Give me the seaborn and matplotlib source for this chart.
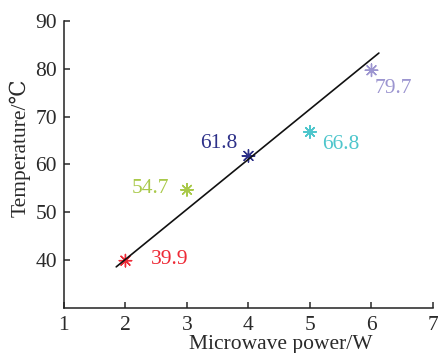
import matplotlib
matplotlib.use("Agg")
import matplotlib.pyplot as plt
import seaborn as sns
import pandas as pd

power = [2, 3, 4, 5, 6]
temperature = [39.9, 54.7, 61.8, 66.8, 79.7]
labels = ["39.9", "54.7", "61.8", "66.8", "79.7"]
colors = ["#ee2a36", "#a9c94a", "#2e3189", "#4ec6cc", "#9c95d0"]
fit_x = [1.85, 6.12]
fit_y = [38.6, 83.3]

sns.set_theme(style="ticks")
plt.rcParams["font.family"] = ["Liberation Serif", "DejaVu Serif"]
plt.rcParams["text.color"] = "#2a2a2a"
plt.rcParams["axes.labelcolor"] = "#2a2a2a"
plt.rcParams["xtick.color"] = "#2a2a2a"
plt.rcParams["ytick.color"] = "#2a2a2a"

FS = 15.5

fig = plt.figure(figsize=(4.38, 3.53), dpi=100)
ax = fig.add_axes([0.146, 0.1275, 0.8426, 0.813])

df = pd.DataFrame({"power": power, "temperature": temperature, "label": labels})
line_df = pd.DataFrame({"x": fit_x, "y": fit_y})

sns.lineplot(data=line_df, x="x", y="y", ax=ax, color="#111111", linewidth=1.2)
sns.scatterplot(data=df, x="power", y="temperature", hue="label",
                palette=colors, marker=(8, 2, 0), s=80, linewidth=1.0,
                legend=False, ax=ax)

offsets = [(18, 1, "left"), (-13, 1, "right"), (-8, 9, "right"),
           (9, -9, "left"), (2, -13, "left")]
for x, y, t, c, (dx, dy, ha) in zip(power, temperature, labels, colors, offsets):
    ax.annotate(t, (x, y), xytext=(dx, dy), textcoords="offset points",
                ha=ha, va="center", color=c, fontsize=FS)

ax.set_xlim(1, 7)
ax.set_ylim(30, 90)
ax.set_xticks([1, 2, 3, 4, 5, 6, 7])
ax.set_yticks([40, 50, 60, 70, 80, 90])
ax.tick_params(direction="in", labelsize=FS, width=1.1, length=4)
ax.tick_params(axis="x", pad=6)
ax.tick_params(axis="y", pad=5)
ax.set_xlabel("Microwave power/W", fontsize=FS, va="center")
ax.set_ylabel("Temperature/℃", fontsize=FS, va="center")
ax.xaxis.set_label_coords(0.588, -0.128)
ax.yaxis.set_label_coords(-0.119, 0.557)
for s in ["top", "right"]:
    ax.spines[s].set_visible(False)
for s in ["left", "bottom"]:
    ax.spines[s].set_linewidth(1.1)
    ax.spines[s].set_color("#222222")

fig.savefig("out.png", dpi=100)
